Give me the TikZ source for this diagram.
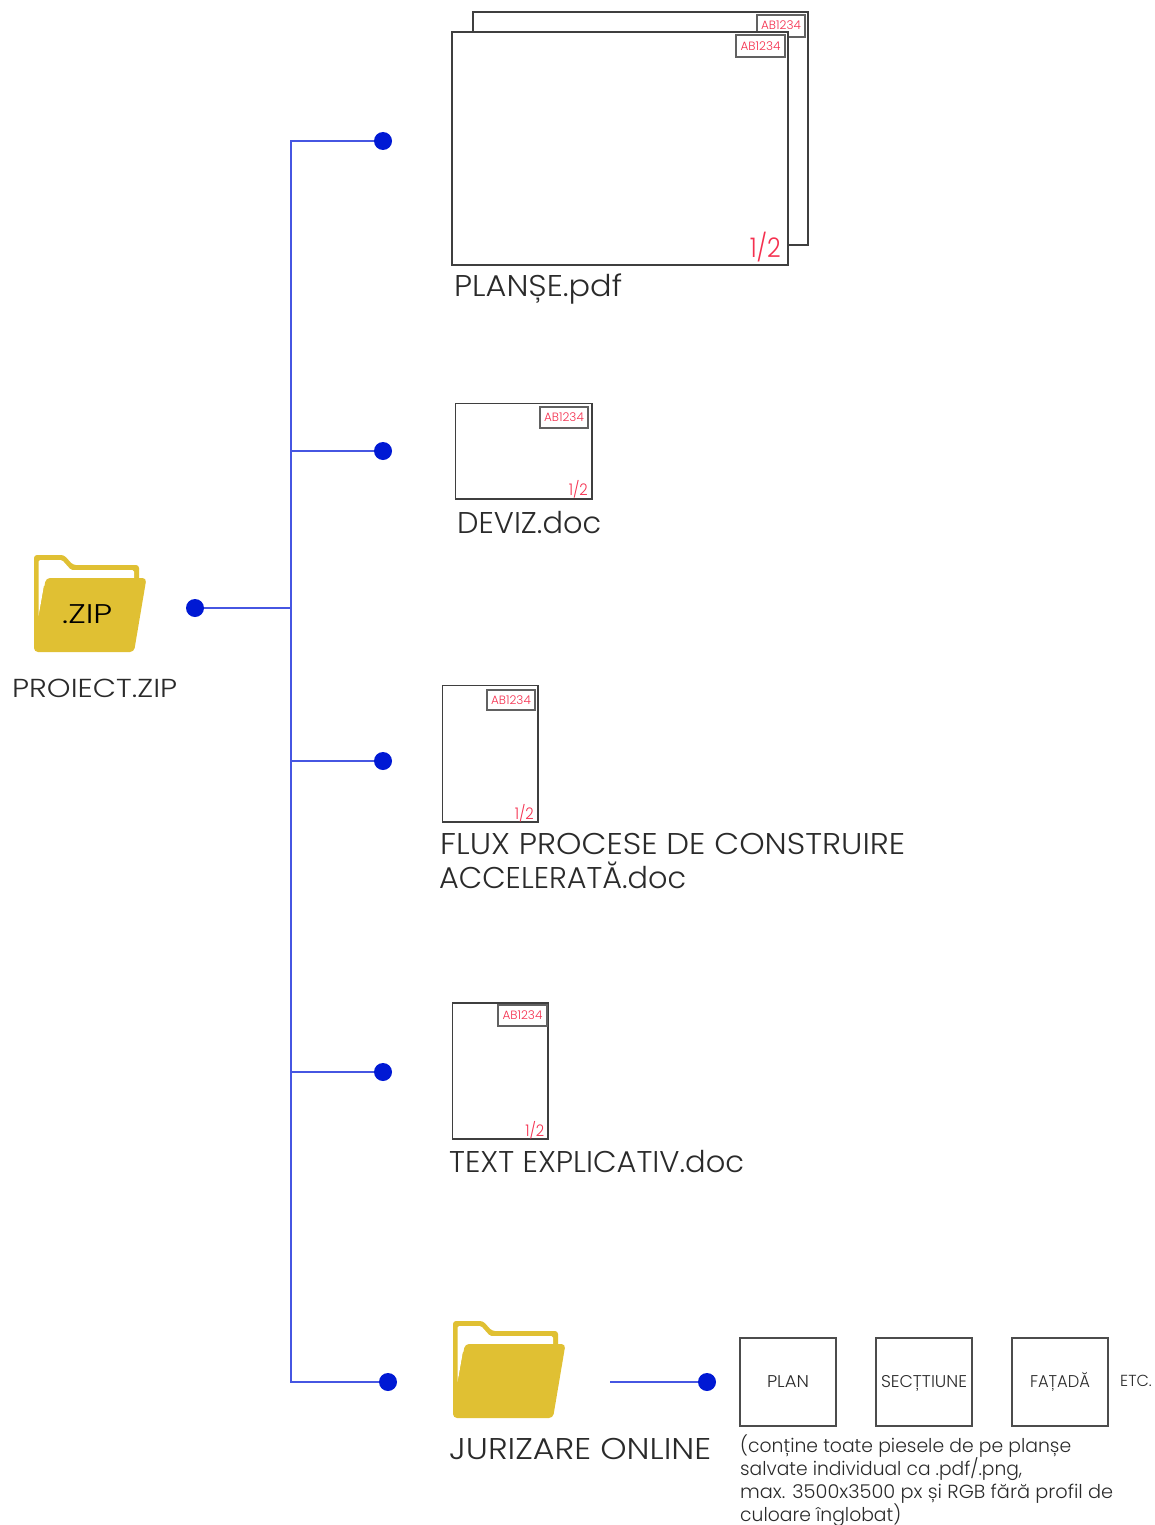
\documentclass[tikz,border=0pt]{standalone}
\usepackage{fontspec}
\usepackage{graphicx}
\setmainfont{Poppins Light}
\definecolor{gold}{HTML}{E0C033}
\definecolor{wire}{HTML}{4656E2}
\definecolor{dotblue}{HTML}{0019D4}
\definecolor{redtxt}{HTML}{F5304F}
\definecolor{ink}{HTML}{2A2A2A}
\newcommand{\fs}[1]{\fontsize{#1}{#1}\selectfont}
\newcommand{\fitw}[2]{\resizebox{#1pt}{\height}{#2}}
\tikzset{
  x=1pt,y=-1pt,
  wireline/.style={draw=wire,line width=1.25pt},
  dot/.style={circle,fill=dotblue,inner sep=0pt,minimum size=18pt},
  sheet/.style={draw=ink!90,line width=1.4pt,fill=white},
  tag/.style={draw=black!62,line width=1.2pt,fill=white,inner sep=0pt,text=redtxt,font=\fs{12}},
  pagenum/.style={anchor=base east,inner sep=0pt,text=redtxt},
  label/.style={anchor=base west,inner sep=0pt,text=ink,align=left},
  piece/.style={draw=black!70,line width=1.1pt,inner sep=0pt,text=ink,font=\fs{17},text height=12pt,text depth=2pt,minimum width=96pt,minimum height=88pt},
  folder/.pic={
    \fill[gold,rounded corners=3pt] (0,92) -- (0,0) -- (30,0) -- (39,10) -- (105,10) -- (105,30) -- (0,92) -- cycle;
    \fill[white,rounded corners=1.5pt] (4.5,62) -- (4.5,5) -- (28,5) -- (37,15) -- (100,15) -- (100,30) -- (10,30) -- cycle;
    \fill[gold,rounded corners=4pt] (12,23) -- (112.5,23) -- (100,97) -- (0,97) -- (0,80) -- (4.5,62) -- cycle;
  }
}
\begin{document}
\begin{tikzpicture}
\useasboundingbox (0,0) rectangle (1155,1525);
% folders
\pic at (34,555) {folder};
\pic at (453,1321) {folder};
\node[anchor=base west,inner sep=0pt,text=black,font=\fs{27}] (zipmark) at (62,623) {\fitw{50}{.ZIP}};
\node[label,font=\fs{26}] (zipname) at (12,697) {\fitw{165}{PROIECT.ZIP}};
% junctions and dots
\coordinate (trunktop) at (291,141);
\coordinate (trunkmid) at (291,608);
\coordinate (j2) at (291,451);
\coordinate (j3) at (291,761);
\coordinate (j4) at (291,1072);
\coordinate (trunkbot) at (291,1382);
\coordinate (linestart) at (610,1382);
\node[dot] (dzip) at (195,608) {};
\node[dot] (d1) at (383,141) {};
\node[dot] (d2) at (383,451) {};
\node[dot] (d3) at (383,761) {};
\node[dot] (d4) at (383,1072) {};
\node[dot] (d5) at (388,1382) {};
\node[dot] (d6) at (707,1382) {};
\draw[wireline] (d1) -- (trunktop) -- (trunkbot) -- (d5);
\draw[wireline] (dzip) -- (trunkmid);
\draw[wireline] (j2) -- (d2);
\draw[wireline] (j3) -- (d3);
\draw[wireline] (j4) -- (d4);
\draw[wireline] (linestart) -- (d6);
% PLANSE
\draw[sheet] (473,12) rectangle (808,245);
\node[tag,minimum width=48pt,minimum height=22pt] (t0) at (781,26) {\raisebox{1.5pt}{AB1234}};
\draw[sheet] (452,32) rectangle (788,265);
\node[tag,minimum width=49pt,minimum height=22pt] (t1) at (760.5,46) {AB1234};
\node[pagenum,font=\fs{27}] (p1) at (781,257) {\fitw{31}{1/2}};
\node[label,font=\fs{30}] (n1) at (454,296) {\fitw{168}{PLANȘE.pdf}};
% DEVIZ
\draw[sheet] (455.5,403.5) rectangle (592,499);
\node[tag,minimum width=48pt,minimum height=21pt] (t2) at (564,417.5) {AB1234};
\node[pagenum,font=\fs{16}] (p2) at (588,495) {\fitw{19}{1/2}};
\node[label,font=\fs{30}] (n2) at (457,533) {\fitw{144}{DEVIZ.doc}};
% FLUX
\draw[sheet] (442.5,685.5) rectangle (538,822);
\node[tag,minimum width=48pt,minimum height=20pt] (t3) at (511,700) {AB1234};
\node[pagenum,font=\fs{16}] (p3) at (534,819) {\fitw{19}{1/2}};
\node[label,font=\fs{30}] (n3a) at (440,854) {\fitw{465}{FLUX PROCESE DE CONSTRUIRE}};
\node[label,font=\fs{30}] (n3b) at (439,888) {\fitw{247}{ACCELERATĂ.doc}};
% TEXT
\draw[sheet] (452.5,1003) rectangle (548,1139);
\node[tag,minimum width=49pt,minimum height=21pt] (t4) at (522.5,1015.5) {AB1234};
\node[pagenum,font=\fs{16}] (p4) at (544.5,1136) {\fitw{19}{1/2}};
\node[label,font=\fs{30}] (n4) at (449,1172) {\fitw{295}{TEXT EXPLICATIV.doc}};
% JURIZARE
\node[label,font=\fs{30}] (n5) at (449,1459) {\fitw{262}{JURIZARE ONLINE}};
\node[piece] (b1) at (788,1382) {\fitw{42}{PLAN}};
\node[piece] (b2) at (924,1382) {\fitw{86}{SECȚTIUNE}};
\node[piece] (b3) at (1060,1382) {\fitw{60}{FAȚADĂ}};
\node[inner sep=0pt,text=ink,font=\fs{16},anchor=base west] (etc) at (1120,1386.5) {ETC.};
\node[label,font=\fs{19}] (d1a) at (740,1452) {\fitw{331}{(conține toate piesele de pe planșe}};
\node[label,font=\fs{19}] (d1b) at (740,1475) {\fitw{282}{salvate individual ca .pdf/.png,}};
\node[label,font=\fs{19}] (d1c) at (740,1498) {\fitw{373}{max. 3500x3500 px și RGB fără profil de}};
\node[label,font=\fs{19}] (d1d) at (740,1521) {\fitw{161}{culoare înglobat)}};
\end{tikzpicture}
\end{document}
